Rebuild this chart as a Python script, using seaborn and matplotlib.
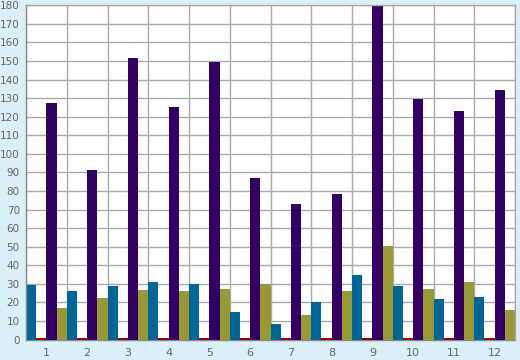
import pandas as pd
import seaborn as sns
import matplotlib.pyplot as plt
import numpy as np

categories = [str(i) for i in range(1, 13)]
series_names = ["Blue", "Red", "Purple", "Olive"]

blue_vals = [29.3, 26.1, 28.8, 31.0, 29.9, 14.8, 8.3, 20.2, 34.7, 28.8, 21.8, 22.9]
red_vals = [1.0] * 12
purple_vals = [127.4, 91.2, 151.6, 125.2, 149.4, 87.0, 73.0, 78.3, 181.0, 129.5, 123.0, 134.4]
olive_vals = [17.0, 22.3, 26.7, 26.1, 27.2, 29.9, 13.2, 26.1, 50.3, 27.2, 31.0, 15.9]

colors = ["#006699", "#990000", "#330066", "#999933"]

rows = []
for name, vals in zip(series_names, [blue_vals, red_vals, purple_vals, olive_vals]):
    for c, v in zip(categories, vals):
        rows.append({"cat": c, "value": v, "series": name})
df = pd.DataFrame(rows)

sns.set_style("white")
plt.rcParams["font.family"] = ["DejaVu Sans"]

fig = plt.figure(figsize=(5.2, 3.6), dpi=100)
fig.patch.set_facecolor("#daeff7")
ax = fig.add_axes([26 / 520, 20.5 / 360, 489 / 520, 334.2 / 360])
ax.set_facecolor("white")

sns.barplot(data=df, x="cat", y="value", hue="series", hue_order=series_names,
            palette=colors, width=1.0, gap=0, dodge=True, saturation=1,
            legend=False, ax=ax, linewidth=0)

ax.set_xlim(-0.5, 11.5)
ax.set_ylim(0, 180)
ax.set_yticks(np.arange(0, 181, 10))
ax.set_xticks(range(12))
ax.set_xticklabels(categories)
ax.set_xticks(np.arange(-0.5, 12, 1), minor=True)
ax.set_xlabel("")
ax.set_ylabel("")

ax.grid(axis="y", color="#aaaaaa", linewidth=1)
ax.grid(axis="x", which="minor", color="#aaaaaa", linewidth=1)
ax.set_axisbelow(True)

ax.tick_params(axis="x", which="major", length=0, pad=6, labelsize=8, labelcolor="#666666")
ax.tick_params(axis="x", which="minor", length=5, color="#888888", direction="out")
ax.tick_params(axis="y", length=4, color="#888888", labelsize=7.5, labelcolor="#666666", pad=0.5)

for s in ax.spines.values():
    s.set_color("#aaaaaa")
    s.set_linewidth(1)
ax.spines["left"].set_color("#888888")
ax.spines["bottom"].set_color("#888888")
ax.spines["bottom"].set_zorder(0.5)

plt.savefig("out.png", dpi=100, facecolor=fig.get_facecolor())
plt.close()
